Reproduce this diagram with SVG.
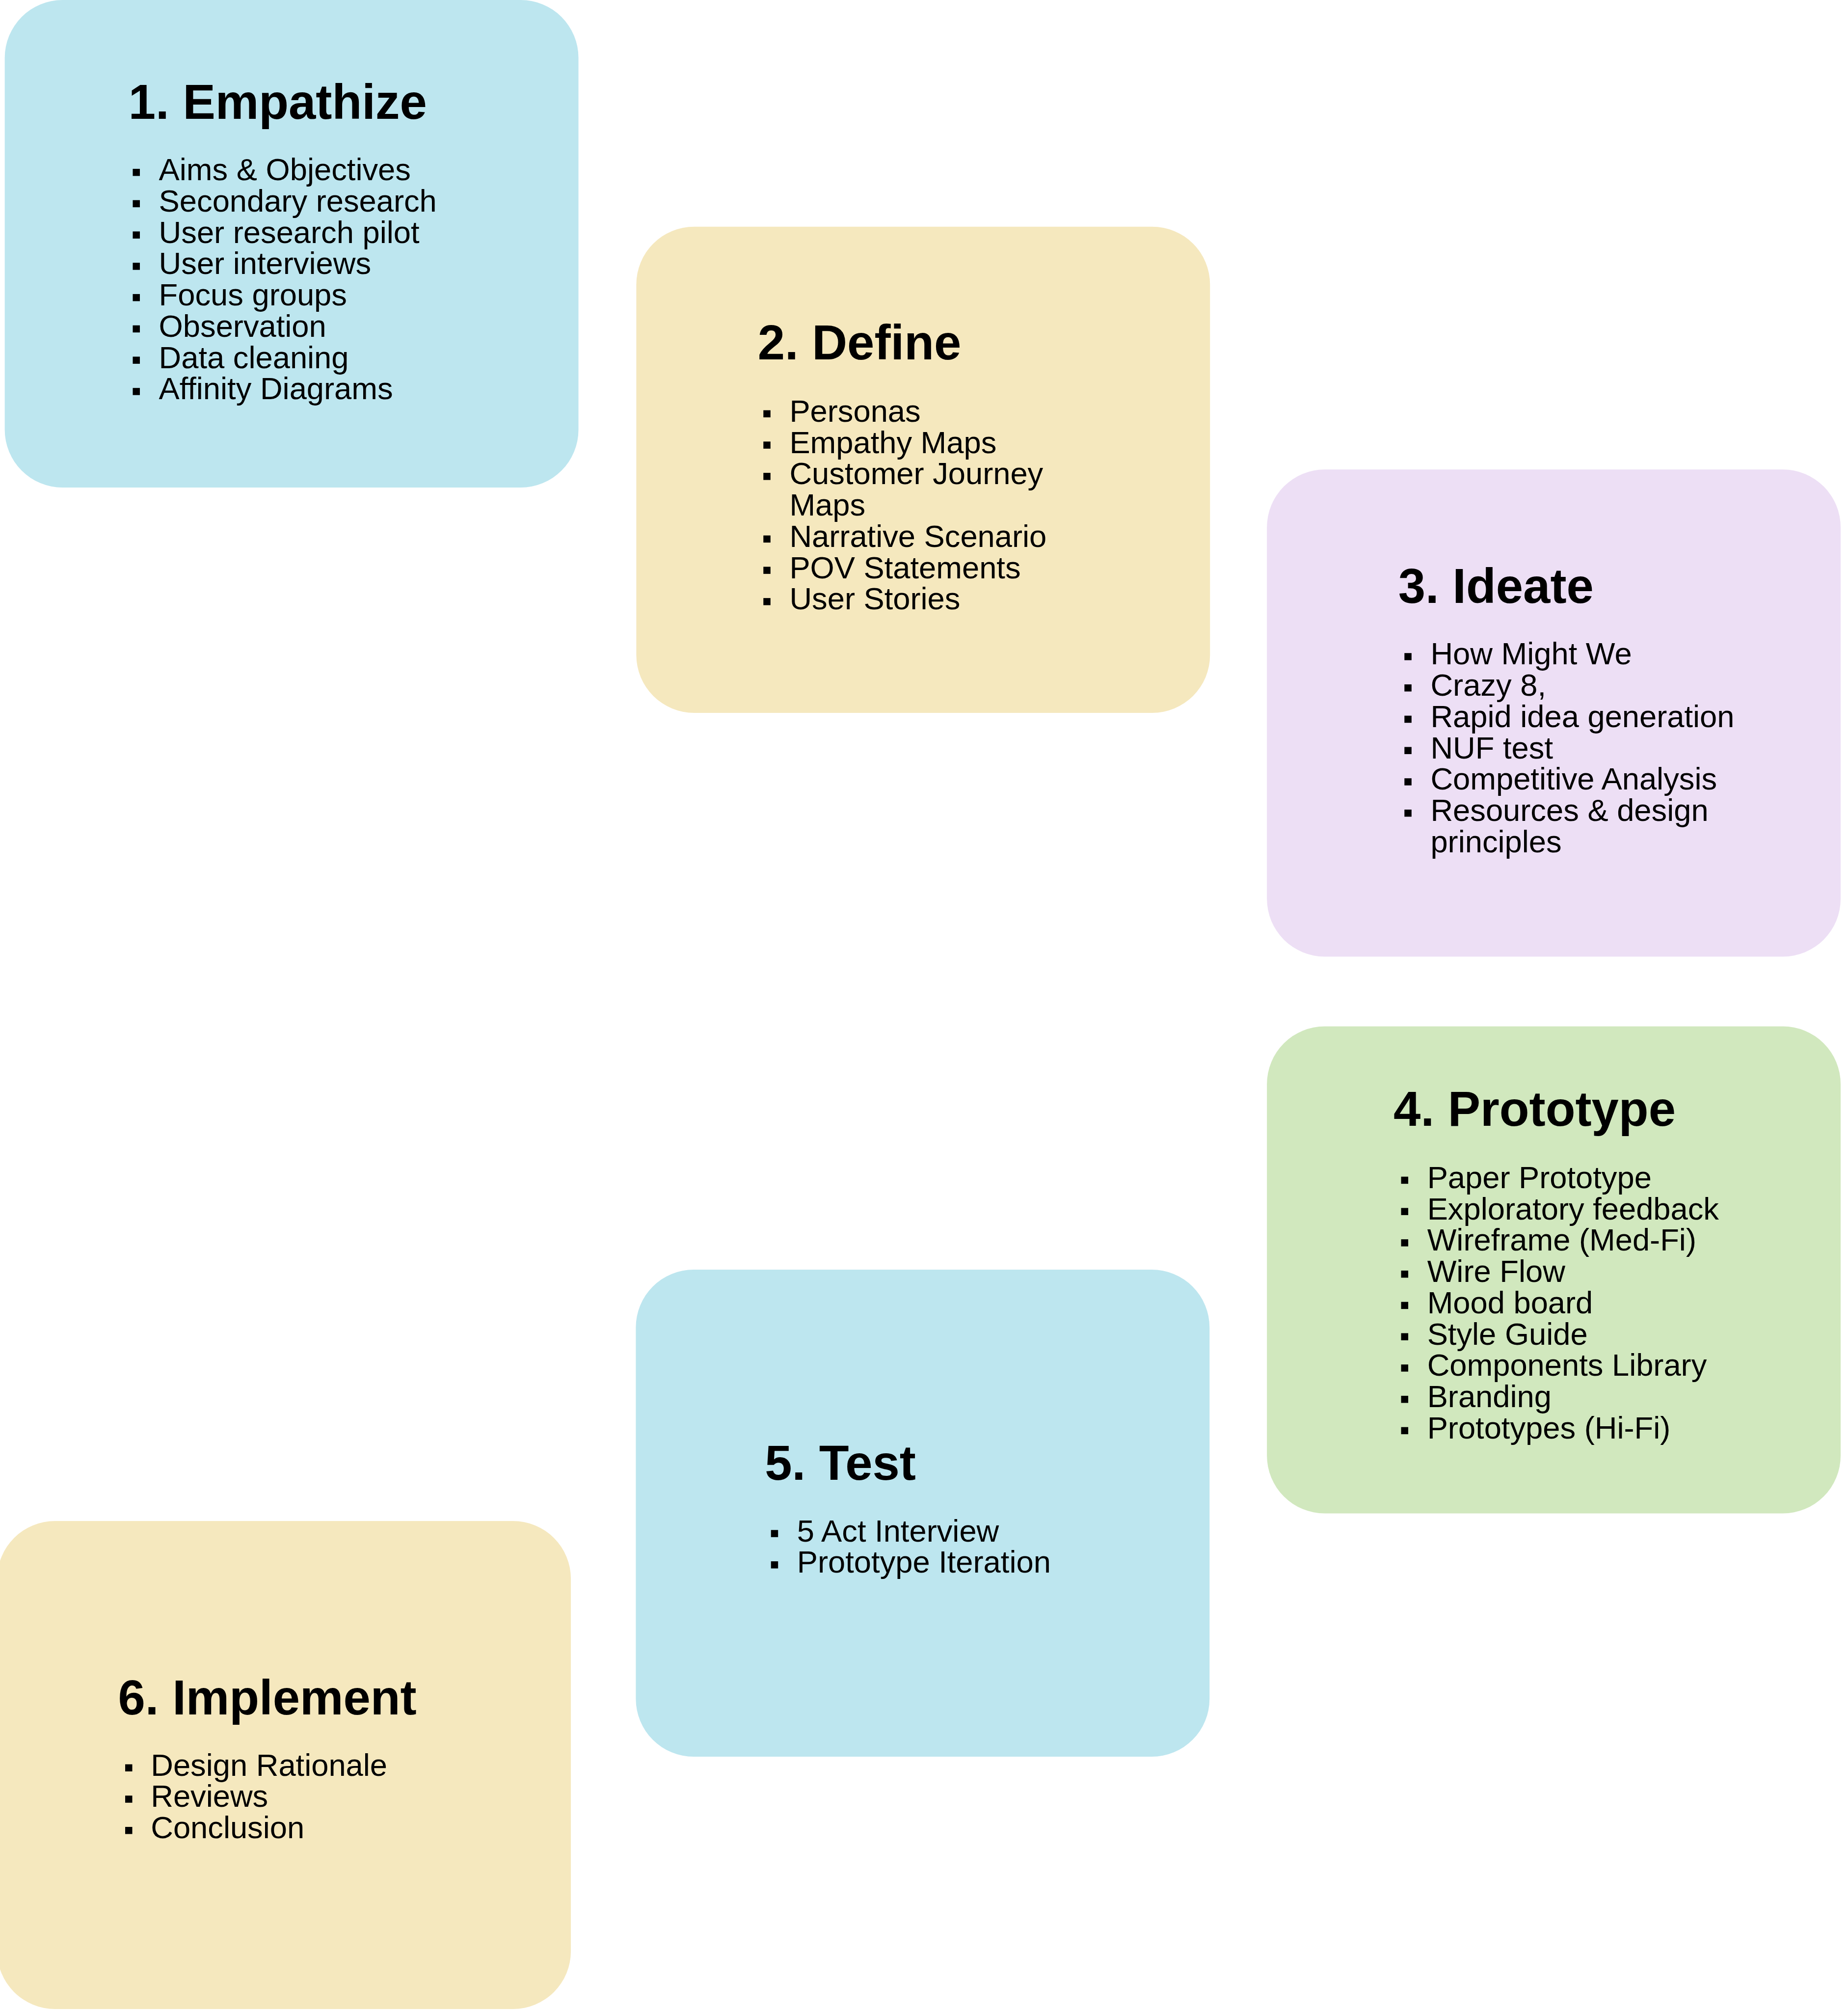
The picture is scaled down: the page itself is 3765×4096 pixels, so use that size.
<svg xmlns="http://www.w3.org/2000/svg" width="3765" height="4096" viewBox="0 0 3765 4096">
<style>
.box{stroke:none}
.blue{fill:#BDE6EF}
.yellow{fill:#F5E8BE}
.purple{fill:#EDDFF5}
.green{fill:#D1E8BE}
.title{font-family:"Liberation Sans",Arial,sans-serif;font-weight:bold;font-size:103px;fill:#000}
.item{font-family:"Liberation Sans",Arial,sans-serif;font-size:65.5px;fill:#000}
.bul{fill:#000}
</style>
<defs>
<rect id="b" class="bul" x="0" y="-24" width="15" height="15"/>
</defs>
<rect x="0" y="0" width="3765" height="4096" fill="#ffffff"/>
<g transform="scale(0.966)">
<g id="connectors"></g>

<g id="node-1">
<rect class="box blue" x="10" y="0" width="1210" height="1028" rx="122" ry="122"/>
<text class="title" x="271" y="250">1. Empathize</text>
<use href="#b" x="280" y="380"/><text class="item" x="335" y="380">Aims &amp; Objectives</text>
<use href="#b" x="280" y="446"/><text class="item" x="335" y="446">Secondary research</text>
<use href="#b" x="280" y="512"/><text class="item" x="335" y="512">User research pilot</text>
<use href="#b" x="280" y="578"/><text class="item" x="335" y="578">User interviews</text>
<use href="#b" x="280" y="644"/><text class="item" x="335" y="644">Focus groups</text>
<use href="#b" x="280" y="710"/><text class="item" x="335" y="710">Observation</text>
<use href="#b" x="280" y="776"/><text class="item" x="335" y="776">Data cleaning</text>
<use href="#b" x="280" y="842"/><text class="item" x="335" y="842">Affinity Diagrams</text>
</g>

<g id="node-2">
<rect class="box yellow" x="1342" y="478" width="1210" height="1025" rx="122" ry="122"/>
<text class="title" x="1598" y="758">2. Define</text>
<use href="#b" x="1610" y="889"/><text class="item" x="1665" y="889">Personas</text>
<use href="#b" x="1610" y="955"/><text class="item" x="1665" y="955">Empathy Maps</text>
<use href="#b" x="1610" y="1021"/><text class="item" x="1665" y="1021">Customer Journey</text>
<text class="item" x="1665" y="1087">Maps</text>
<use href="#b" x="1610" y="1153"/><text class="item" x="1665" y="1153">Narrative Scenario</text>
<use href="#b" x="1610" y="1219"/><text class="item" x="1665" y="1219">POV Statements</text>
<use href="#b" x="1610" y="1285"/><text class="item" x="1665" y="1285">User Stories</text>
</g>

<g id="node-3">
<rect class="box purple" x="2672" y="990" width="1210" height="1027" rx="122" ry="122"/>
<text class="title" x="2949" y="1271">3. Ideate</text>
<use href="#b" x="2962" y="1401"/><text class="item" x="3017" y="1401">How Might We</text>
<use href="#b" x="2962" y="1467"/><text class="item" x="3017" y="1467">Crazy 8,</text>
<use href="#b" x="2962" y="1533"/><text class="item" x="3017" y="1533">Rapid idea generation</text>
<use href="#b" x="2962" y="1599"/><text class="item" x="3017" y="1599">NUF test</text>
<use href="#b" x="2962" y="1665"/><text class="item" x="3017" y="1665">Competitive Analysis</text>
<use href="#b" x="2962" y="1731"/><text class="item" x="3017" y="1731">Resources &amp; design</text>
<text class="item" x="3017" y="1797">principles</text>
</g>

<g id="node-4">
<rect class="box green" x="2672" y="2164" width="1210" height="1027" rx="122" ry="122"/>
<text class="title" x="2939" y="2374">4. Prototype</text>
<use href="#b" x="2955" y="2505"/><text class="item" x="3010" y="2505">Paper Prototype</text>
<use href="#b" x="2955" y="2571"/><text class="item" x="3010" y="2571">Exploratory feedback</text>
<use href="#b" x="2955" y="2637"/><text class="item" x="3010" y="2637">Wireframe (Med-Fi)</text>
<use href="#b" x="2955" y="2703"/><text class="item" x="3010" y="2703">Wire Flow</text>
<use href="#b" x="2955" y="2769"/><text class="item" x="3010" y="2769">Mood board</text>
<use href="#b" x="2955" y="2835"/><text class="item" x="3010" y="2835">Style Guide</text>
<use href="#b" x="2955" y="2901"/><text class="item" x="3010" y="2901">Components Library</text>
<use href="#b" x="2955" y="2967"/><text class="item" x="3010" y="2967">Branding</text>
<use href="#b" x="2955" y="3033"/><text class="item" x="3010" y="3033">Prototypes (Hi-Fi)</text>
</g>

<g id="node-5">
<rect class="box blue" x="1341" y="2677" width="1210" height="1027" rx="122" ry="122"/>
<text class="title" x="1613" y="3120">5. Test</text>
<use href="#b" x="1626" y="3250"/><text class="item" x="1681" y="3250">5 Act Interview</text>
<use href="#b" x="1626" y="3316"/><text class="item" x="1681" y="3316">Prototype Iteration</text>
</g>

<g id="node-6">
<rect class="box yellow" x="-6" y="3207" width="1210" height="1029" rx="122" ry="122"/>
<text class="title" x="249" y="3615">6. Implement</text>
<use href="#b" x="264" y="3744"/><text class="item" x="318" y="3744">Design Rationale</text>
<use href="#b" x="264" y="3810"/><text class="item" x="318" y="3810">Reviews</text>
<use href="#b" x="264" y="3876"/><text class="item" x="318" y="3876">Conclusion</text>
</g>
</g>
</svg>
